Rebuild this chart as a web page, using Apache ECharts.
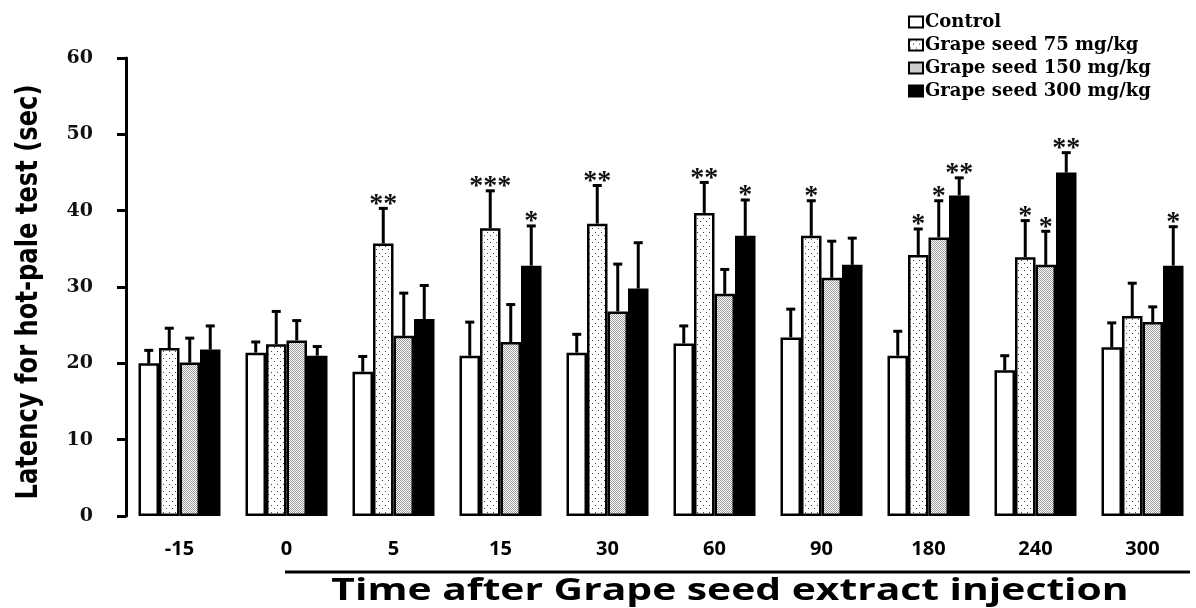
<!DOCTYPE html>
<html>
<head>
<meta charset="utf-8">
<script src="https://cdn.jsdelivr.net/npm/echarts@6/dist/echarts.min.js"></script>
<style>
  html, body { margin: 0; background: #fff; }
  #chart { width: 1196px; height: 608px; }
</style>
</head>
<body>
<div id="chart"></div>
<script>
// time points (min)
const categories = ['-15', '0', '5', '15', '30', '60', '90', '180', '240', '300']
const seriesNames = ['Control', 'Grape seed 75 mg/kg', 'Grape seed 150 mg/kg', 'Grape seed 300 mg/kg']
const yTicks = [0, 10, 20, 30, 40, 50, 60]

// mean latency (sec)
const control = [20.0, 21.4, 18.9, 21.0, 21.4, 22.6, 23.4, 21.0, 19.1, 22.1]
const gs75 = [22.0, 22.5, 35.7, 37.7, 38.3, 39.7, 36.7, 34.2, 33.9, 26.2]
const gs150 = [20.1, 23.0, 23.6, 22.8, 26.8, 29.1, 31.2, 36.5, 32.9, 25.4]
const gs300 = [21.8, 21.0, 25.8, 32.8, 29.8, 36.7, 32.9, 42.0, 45.0, 32.8]

// SEM (upper error bar only)
const controlErr = [1.7, 1.4, 2.0, 4.4, 2.4, 2.3, 3.7, 3.2, 1.9, 3.2]
const gs75Err = [2.6, 4.3, 4.6, 4.9, 5.0, 4.0, 4.6, 3.4, 4.8, 4.3]
const gs150Err = [3.2, 2.6, 5.6, 4.9, 6.2, 3.2, 4.8, 4.8, 4.4, 2.0]
const gs300Err = [3.1, 1.2, 4.4, 5.2, 6.0, 4.7, 3.5, 2.3, 2.6, 5.1]

// significance marks
const controlSig = ['', '', '', '', '', '', '', '', '', '']
const gs75Sig = ['', '', '**', '***', '**', '**', '*', '*', '*', '']
const gs150Sig = ['', '', '', '', '', '', '', '*', '*', '']
const gs300Sig = ['', '', '', '*', '', '*', '', '**', '**', '*']

const means = [control, gs75, gs150, gs300]
const errs = [controlErr, gs75Err, gs150Err, gs300Err]
const sigs = [controlSig, gs75Sig, gs150Sig, gs300Sig]

const BAR_W = 20.5
const Y_NAME = 'Latency for hot-pale test (sec)'
const Y_NAME_FONT = 'bold 30px "DejaVu Sans Condensed", "Liberation Sans", sans-serif'

function makePattern(kind) {
  const c = document.createElement('canvas')
  const ctx = c.getContext('2d')
  if (kind === 'sparse') {
    c.width = 6; c.height = 7
    ctx.fillStyle = '#fff'
    ctx.fillRect(0, 0, 6, 7)
    ctx.fillStyle = '#444'
    ctx.fillRect(1, 1, 1, 1)
    ctx.fillRect(4, 4, 1, 1)
  } else {
    c.width = 2; c.height = 2
    ctx.fillStyle = '#fff'
    ctx.fillRect(0, 0, 2, 2)
    ctx.fillStyle = '#999'
    ctx.fillRect(0, 0, 1, 1)
    ctx.fillRect(1, 1, 1, 1)
  }
  return { image: c, repeat: 'repeat' }
}

// squeeze the y title to the length it has in the figure
function nameScale() {
  const ctx = document.createElement('canvas').getContext('2d')
  ctx.font = Y_NAME_FONT
  return 415 / ctx.measureText(Y_NAME).width
}

const fills = ['#ffffff', makePattern('sparse'), makePattern('dense'), '#000000']

const barSeries = seriesNames.map((name, s) => ({
  name: name,
  type: 'bar',
  barWidth: BAR_W,
  barGap: '0%',
  data: means[s],
  itemStyle: { color: fills[s], borderColor: '#000', borderWidth: 2.5 },
  emphasis: { disabled: true }
}))

// error bar items: [category, mean, upper, seriesIndex]
const errItems = []
const errText = []
means.forEach((arr, s) => {
  arr.forEach((v, i) => {
    errItems.push([i, v, v + errs[s][i], s])
    errText.push(sigs[s][i])
  })
})

const errSeries = {
  type: 'custom',
  z: 5,
  data: errItems,
  encode: { x: 0, y: [1, 2] },
  renderItem: function(params, api) {
    const i = api.value(0)
    const s = api.value(3)
    const base = api.coord([i, api.value(1)])
    const top = api.coord([i, api.value(2)])
    const x = base[0] + (s - 1.5) * BAR_W
    const children = [
      { type: 'line', shape: { x1: x, y1: base[1], x2: x, y2: top[1] }, style: { stroke: '#000', lineWidth: 3 } },
      { type: 'line', shape: { x1: x - 4.5, y1: top[1], x2: x + 4.5, y2: top[1] }, style: { stroke: '#000', lineWidth: 3 } }
    ]
    const t = errText[params.dataIndex]
    if (t) {
      children.push({
        type: 'text',
        style: {
          text: t, x: x, y: top[1] + 10,
          align: 'center', verticalAlign: 'bottom',
          fill: '#111', font: 'bold 28px "Liberation Serif", serif'
        }
      })
    }
    return { type: 'group', children: children }
  }
}

const chart = echarts.init(document.getElementById('chart'))
chart.setOption({
  animation: false,
  grid: { left: 126, right: 0, top: 58, bottom: 92, containLabel: false },
  legend: {
    orient: 'vertical',
    left: 903,
    top: 8,
    itemWidth: 14,
    itemHeight: 11,
    itemGap: 5,
    icon: 'rect',
    data: seriesNames,
    textStyle: { fontFamily: 'DejaVu Serif', fontWeight: 'bold', fontSize: 18, color: '#000', padding: [0, 0, 0, -3] },
    itemStyle: { borderColor: '#000', borderWidth: 2 }
  },
  xAxis: {
    type: 'category',
    data: categories,
    axisLine: { show: false },
    axisTick: { show: false },
    axisLabel: { margin: 23, fontFamily: 'Open Sans', fontWeight: 'bold', fontSize: 20, color: '#000' }
  },
  yAxis: {
    type: 'value',
    min: yTicks[0],
    max: yTicks[yTicks.length - 1],
    interval: 10,
    axisLine: { show: true, lineStyle: { color: '#000', width: 3 } },
    axisTick: { show: true, inside: false, length: 9, lineStyle: { color: '#000', width: 3 } },
    splitLine: { show: false },
    axisLabel: { margin: 33, fontFamily: 'DejaVu Serif', fontWeight: 'bold', fontSize: 19, color: '#111' }
  },
  graphic: [
    {
      type: 'text', x: 29, y: 292, rotation: Math.PI / 2, scaleX: nameScale(),
      style: { text: Y_NAME, fill: '#000', font: Y_NAME_FONT, align: 'center', verticalAlign: 'middle' }
    },
    { type: 'line', shape: { x1: 285, y1: 572, x2: 1190, y2: 572 }, style: { stroke: '#000', lineWidth: 3 } },
    {
      type: 'text', x: 730, y: 591, scaleX: 1.36,
      style: {
        text: 'Time after Grape seed extract injection',
        fill: '#000', font: 'bold 30px "Open Sans", sans-serif', align: 'center', verticalAlign: 'middle'
      }
    }
  ],
  series: barSeries.concat([errSeries])
})
</script>
</body>
</html>
